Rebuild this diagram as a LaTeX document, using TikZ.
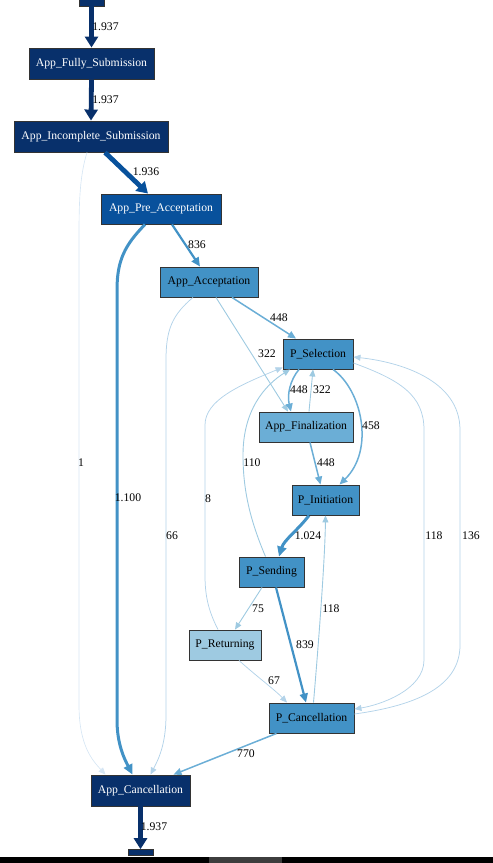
\documentclass[tikz,border=0pt]{standalone}
\usepackage{fontspec}
\setmainfont{Liberation Serif}
\usetikzlibrary{arrows.meta}

\definecolor{navy}{HTML}{08306B}
\definecolor{darkblue}{HTML}{08519C}
\definecolor{midblue}{HTML}{4292C6}
\definecolor{lightblue}{HTML}{6BAED6}
\definecolor{paleblue}{HTML}{9ECAE1}
\definecolor{palerblue}{HTML}{B3D3E9}
\definecolor{faintblue}{HTML}{D6E6F4}

\begin{document}
\begin{tikzpicture}[
    x=1pt, y=-1pt,
    box/.style={
        rectangle, minimum height=30pt, inner sep=0pt,
        text centered, font=\fontsize{11.7}{14}\selectfont,
        draw=black!80, line width=0.9pt
    },
    navybox/.style={box, fill=navy, text=white},
    darkbox/.style={box, fill=darkblue, text=white},
    midbox/.style={box, fill=midblue, text=black},
    lightbox/.style={box, fill=lightblue, text=black},
    palebox/.style={box, fill=paleblue, text=black},
    endbar/.style={rectangle, fill=navy, draw=black!80, line width=0.6pt,
        minimum width=25pt, inner sep=0pt},
    lbl/.style={font=\fontsize{11.7}{14}\selectfont, inner sep=0pt},
    arrheavy/.style={
        -{Triangle[length=11pt, width=13pt]},
        line width=4.8pt, navy
    },
    arrdark/.style={
        -{Triangle[length=11pt, width=13pt]},
        line width=4.8pt, darkblue
    },
    arrthick/.style={
        -{Triangle[length=10pt, width=9pt]},
        line width=3pt, midblue
    },
    arrmid/.style={
        -{Triangle[length=9pt, width=8pt]},
        line width=2.2pt, midblue
    },
    arrlight/.style={
        -{Triangle[length=8pt, width=7pt]},
        line width=1.5pt, lightblue
    },
    arrthin/.style={
        -{Triangle[length=7pt, width=6pt]},
        line width=0.9pt, paleblue
    },
    arrpale/.style={
        -{Triangle[length=7pt, width=6pt]},
        line width=0.75pt, palerblue
    },
    arrfaint/.style={
        -{Triangle[length=7pt, width=6pt]},
        line width=0.65pt, faintblue
    }
]
\useasboundingbox (0,0) rectangle (493,863);

% screen strip along the lower edge
\fill[black] (0,857) rectangle (493,863);
\fill[black!76] (209,857) rectangle (282,863);

\node[endbar, minimum height=10pt] at (91.5,1)   (src) {};
\node[navybox, minimum width=125pt, minimum height=31pt] at (91.5,63.5)  (fully) {App\_Fully\_Submission};
\node[navybox, minimum width=154pt, minimum height=31pt] at (91,136.5)   (inc)   {App\_Incomplete\_Submission};
\node[darkbox,  minimum width=120pt] at (161,209)   (pre)   {App\_Pre\_Acceptation};
\node[midbox,   minimum width=98pt]  at (209,282)   (acc)   {App\_Acceptation};
\node[midbox,   minimum width=70pt]  at (318,354)   (psel)  {P\_Selection};
\node[lightbox, minimum width=94pt]  at (306,427)   (fin)   {App\_Finalization};
\node[midbox,   minimum width=67pt]  at (325.5,500) (pini)  {P\_Initiation};
\node[midbox,   minimum width=65pt]  at (271.5,572) (psend) {P\_Sending};
\node[palebox,  minimum width=72pt]  at (225,645)   (pret)  {P\_Returning};
\node[midbox,   minimum width=85pt]  at (311.5,718) (pcanc) {P\_Cancellation};
\node[navybox, minimum width=99pt, minimum height=31pt] at (140.5,790.5) (appc) {App\_Cancellation};
\node[endbar, minimum height=6pt] at (140.5,852.5) (snk) {};

\draw[arrheavy] (src.south) -- (fully.north);
\draw[arrheavy] (fully.south) -- (inc.north);
\draw[arrdark] ([xshift=14pt]inc.south) -- ([xshift=-13pt]pre.north);

\draw[arrfaint] ([xshift=-4pt]inc.south) .. controls (80,175) and (79,200) .. (79,235)
    -- (79,705) .. controls (79,745) and (92,760) .. ([xshift=-35pt]appc.north);
\draw[arrthick] ([xshift=-16pt]pre.south) .. controls (125,245) and (117,260) .. (117,290)
    -- (117,720) .. controls (117,745) and (125,760) .. ([xshift=-8pt]appc.north);
\draw[arrmid] ([xshift=11pt]pre.south) -- ([xshift=-9pt]acc.north);

\draw[arrlight] ([xshift=23pt]acc.south) -- ([xshift=-22pt]psel.north);
\draw[arrthin] ([xshift=7pt]acc.south) -- ([xshift=-18pt]fin.north);
\draw[arrpale] ([xshift=-16pt]acc.south) .. controls (172,315) and (166,330) .. (166,360)
    -- (166,715) .. controls (166,745) and (158,760) .. ([xshift=10pt]appc.north);

\draw[arrlight] ([xshift=-19pt]psel.south) .. controls (290,380) and (287,395) .. ([xshift=-15pt]fin.north);
\draw[arrthin] ([xshift=3pt]fin.north) -- ([xshift=-5pt]psel.south);
\draw[arrlight] ([xshift=15pt]psel.south) .. controls (362,390) and (375,450) .. ([xshift=14pt]pini.north);
\draw[arrlight] ([xshift=4pt]fin.south) -- ([xshift=-5pt]pini.north);

\draw[arrthick] ([xshift=-16.5pt]pini.south) .. controls (298,530) and (284,540) .. ([xshift=7.5pt]psend.north);
\draw[arrthin] ([xshift=-6pt]psend.north) .. controls (250,520) and (243,490) .. (243,455)
    .. controls (243,410) and (265,385) .. ([xshift=-28pt]psel.south);
\draw[arrpale] ([xshift=-7pt]pret.north) .. controls (208,610) and (205,595) .. (205,575)
    -- (205,425) .. controls (205,400) and (240,385) .. ([yshift=2pt]psel.south west);

\draw[arrthin] ([xshift=-9.5pt]psend.south) -- ([xshift=10pt]pret.north);
\draw[arrmid] ([xshift=4.5pt]psend.south) -- ([xshift=-5.5pt]pcanc.north);
\draw[arrpale] ([xshift=14pt]pret.south) .. controls (255,675) and (275,690) .. ([xshift=-24.5pt]pcanc.north);
\draw[arrthin] ([xshift=2pt]pcanc.north) .. controls (318,650) and (325,560) .. (pini.south);

\draw[arrpale] ([yshift=-9pt]psel.east) .. controls (400,380) and (424,395) .. (424,430)
    -- (424,660) .. controls (424,690) and (380,705) .. ([yshift=9pt]pcanc.east);
\draw[arrpale] ([yshift=4pt]pcanc.east) .. controls (420,705) and (460,685) .. (460,645)
    -- (460,430) .. controls (460,380) and (400,362) .. ([yshift=-3pt]psel.east);

\draw[arrlight] ([xshift=-35pt]pcanc.south) -- ([xshift=33pt]appc.north);
\draw[arrheavy] (appc.south) -- (snk.north);

% weights
\node[lbl] at (105.5,26.5) (w1)  {1.937};
\node[lbl] at (105.5,99.5) (w2)  {1.937};
\node[lbl] at (146,172)    (w3)  {1.936};
\node[lbl] at (197,245)    (w4)  {836};
\node[lbl] at (81,463)     (w5)  {1};
\node[lbl] at (128,498)    (w6)  {1.100};
\node[lbl] at (172,536)    (w7)  {66};
\node[lbl] at (279,318)    (w8)  {448};
\node[lbl] at (267,354)    (w9)  {322};
\node[lbl] at (299,390)    (w10) {448};
\node[lbl] at (322,390)    (w11) {322};
\node[lbl] at (371,426)    (w12) {458};
\node[lbl] at (326,463)    (w13) {448};
\node[lbl] at (252,463)    (w14) {110};
\node[lbl] at (208,499)    (w15) {8};
\node[lbl] at (308,536)    (w16) {1.024};
\node[lbl] at (434,536)    (w17) {118};
\node[lbl] at (471,536)    (w18) {136};
\node[lbl] at (258,609)    (w19) {75};
\node[lbl] at (331,609)    (w20) {118};
\node[lbl] at (305,645)    (w21) {839};
\node[lbl] at (274,681)    (w22) {67};
\node[lbl] at (246,754)    (w23) {770};
\node[lbl] at (154,827)    (w24) {1.937};

\end{tikzpicture}
\end{document}
